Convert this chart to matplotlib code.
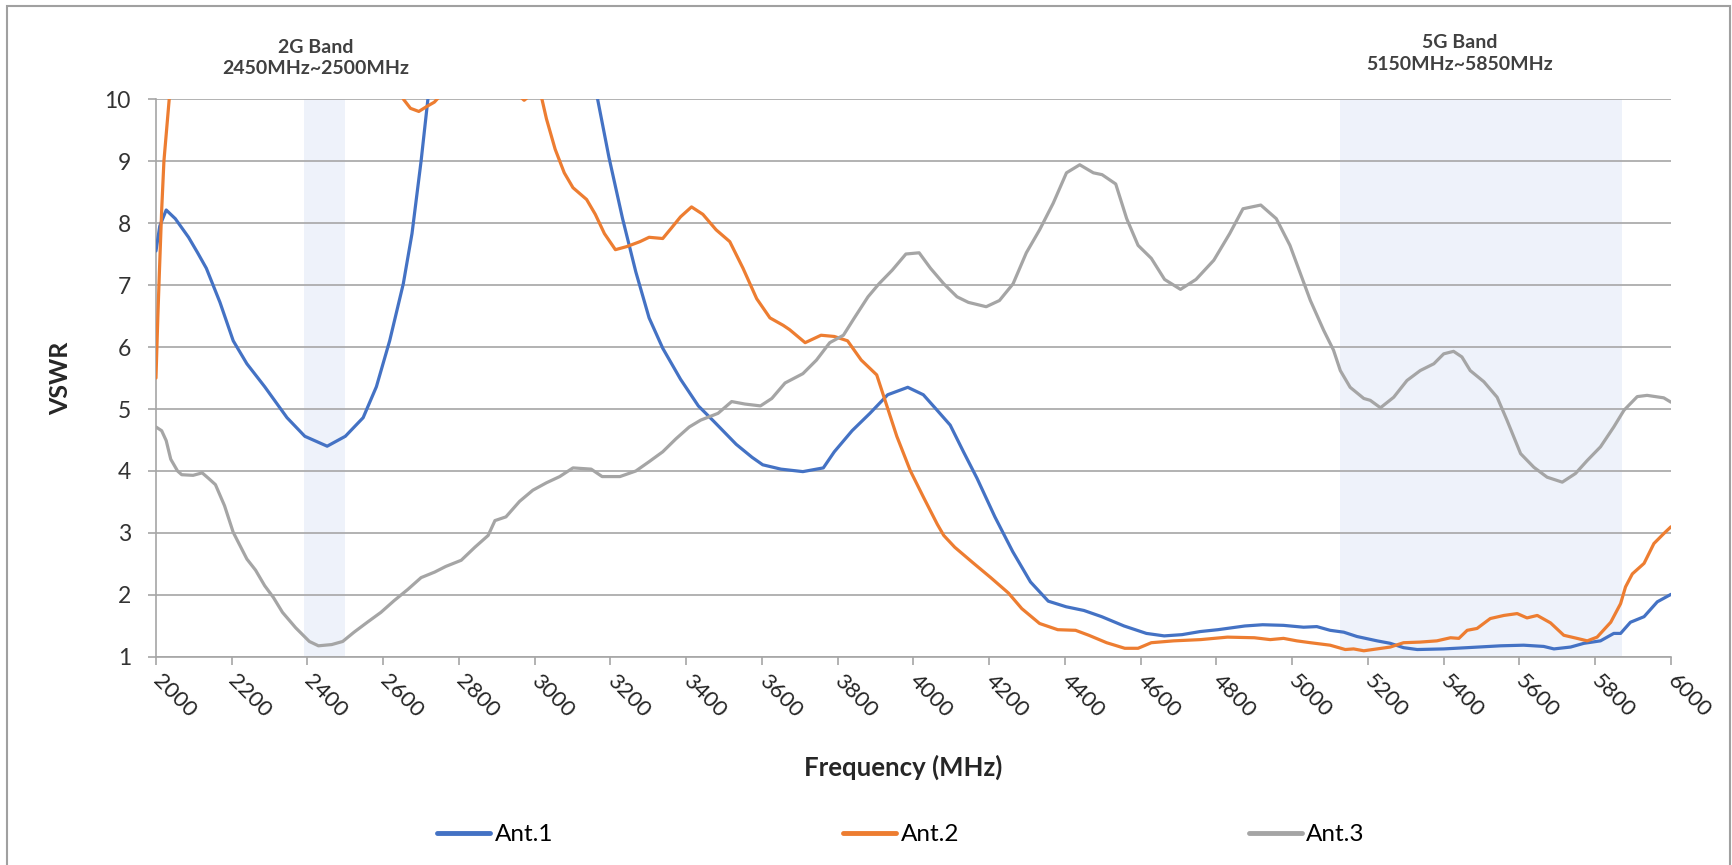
import matplotlib
matplotlib.use('Agg')
import matplotlib.pyplot as plt
from matplotlib.patches import Rectangle

# DATA

freq_ant1 = [2000, 2010, 2027, 2051, 2086, 2110, 2133, 2169, 2204, 2240, 2287,
             2346, 2393, 2452, 2500, 2547, 2582, 2617, 2653, 2676, 2700, 2718,
             2740, 2800, 2900, 3000, 3100, 3166, 3196, 3232, 3267, 3302, 3338,
             3385, 3432, 3473, 3532, 3574, 3602, 3650, 3708, 3762, 3791, 3838,
             3885, 3932, 3985, 4026, 4061, 4097, 4132, 4168, 4215, 4262, 4309,
             4356, 4403, 4450, 4497, 4556, 4615, 4662, 4709, 4757, 4804, 4875,
             4922, 4977, 5030, 5065, 5100, 5136, 5171, 5224, 5259, 5294, 5330,
             5400, 5462, 5550, 5611, 5664, 5691, 5735, 5770, 5814, 5849, 5867,
             5893, 5929, 5964, 6000]
vswr_ant1 = [7.55, 7.95, 8.21, 8.07, 7.77, 7.52, 7.27, 6.72, 6.10, 5.73, 5.36,
             4.86, 4.56, 4.40, 4.56, 4.86, 5.36, 6.10, 7.02, 7.83, 9.00, 10.0,
             11.5, 14.0, 16.0, 15.0, 12.5, 10.0, 9.06, 8.07, 7.21, 6.47, 5.98,
             5.48, 5.05, 4.80, 4.43, 4.22, 4.10, 4.03, 3.99, 4.05, 4.31, 4.65,
             4.93, 5.23, 5.35, 5.23, 4.99, 4.74, 4.31, 3.88, 3.26, 2.70, 2.21,
             1.90, 1.81, 1.75, 1.65, 1.50, 1.38, 1.34, 1.36, 1.41, 1.44, 1.50,
             1.52, 1.51, 1.48, 1.49, 1.43, 1.40, 1.33, 1.26, 1.22, 1.15, 1.12,
             1.13, 1.15, 1.18, 1.19, 1.17, 1.13, 1.16, 1.22, 1.26, 1.38, 1.38,
             1.56, 1.65, 1.89, 2.01]

freq_ant2 = [2000, 2005, 2009, 2015, 2021, 2035, 2060, 2200, 2400, 2550, 2630,
             2653, 2672, 2694, 2715, 2735, 2750, 2780, 2850, 2930, 2965, 2972,
             2980, 3000, 3019, 3031, 3054, 3078, 3101, 3137, 3160, 3184, 3213,
             3243, 3278, 3302, 3338, 3361, 3385, 3414, 3444, 3479, 3515, 3550,
             3586, 3621, 3656, 3673, 3714, 3756, 3791, 3826, 3862, 3903, 3933,
             3956, 3992, 4027, 4063, 4080, 4109, 4157, 4204, 4251, 4286, 4333,
             4381, 4428, 4463, 4510, 4558, 4593, 4628, 4687, 4758, 4829, 4900,
             4942, 4977, 5012, 5048, 5100, 5140, 5162, 5189, 5224, 5259, 5294,
             5338, 5382, 5418, 5440, 5462, 5488, 5523, 5559, 5594, 5620, 5647,
             5682, 5717, 5752, 5779, 5805, 5841, 5867, 5880, 5898, 5929, 5955,
             5981, 6000]
vswr_ant2 = [5.5, 6.5, 7.2, 8.2, 9.0, 10.0, 12.0, 16.0, 16.0, 13.0, 10.5,
             10.0, 9.85, 9.80, 9.88, 9.95, 10.05, 10.6, 11.0, 10.5, 10.02, 9.98,
             10.02, 10.3, 10.0, 9.68, 9.19, 8.81, 8.57, 8.38, 8.14, 7.83, 7.57,
             7.62, 7.70, 7.77, 7.75, 7.92, 8.10, 8.26, 8.14, 7.89, 7.70, 7.27,
             6.78, 6.47, 6.35, 6.28, 6.07, 6.19, 6.17, 6.10, 5.79, 5.55, 4.99,
             4.56, 4.00, 3.57, 3.14, 2.96, 2.77, 2.52, 2.28, 2.03, 1.78, 1.54,
             1.44, 1.43, 1.35, 1.23, 1.14, 1.14, 1.23, 1.26, 1.28, 1.32, 1.31,
             1.28, 1.30, 1.26, 1.23, 1.19, 1.12, 1.13, 1.10, 1.13, 1.16, 1.23,
             1.24, 1.26, 1.31, 1.30, 1.43, 1.46, 1.62, 1.67, 1.70, 1.63, 1.67,
             1.55, 1.35, 1.30, 1.26, 1.32, 1.56, 1.86, 2.13, 2.34, 2.51, 2.83,
             2.99, 3.10]

freq_ant3 = [2000, 2015, 2027, 2039, 2057, 2068, 2098, 2122, 2139, 2157, 2181,
             2204, 2240, 2263, 2287, 2310, 2334, 2369, 2405, 2429, 2464, 2493,
             2523, 2558, 2594, 2629, 2665, 2700, 2736, 2765, 2806, 2842, 2877,
             2895, 2924, 2960, 2995, 3031, 3066, 3101, 3149, 3178, 3225, 3267,
             3302, 3338, 3373, 3408, 3438, 3484, 3520, 3555, 3596, 3626, 3661,
             3708, 3744, 3779, 3815, 3844, 3880, 3909, 3944, 3980, 4015, 4045,
             4080, 4115, 4145, 4192, 4227, 4263, 4298, 4333, 4369, 4404, 4439,
             4475, 4498, 4534, 4563, 4593, 4628, 4663, 4705, 4746, 4793, 4835,
             4870, 4917, 4958, 4994, 5048, 5083, 5109, 5127, 5153, 5189, 5206,
             5233, 5268, 5303, 5338, 5374, 5400, 5426, 5448, 5470, 5506, 5541,
             5567, 5603, 5638, 5673, 5713, 5748, 5779, 5814, 5849, 5876, 5911,
             5937, 5981, 6000]
vswr_ant3 = [4.71, 4.65, 4.49, 4.19, 4.00, 3.94, 3.93, 3.97, 3.88, 3.78, 3.44,
             3.01, 2.58, 2.40, 2.15, 1.96, 1.72, 1.47, 1.25, 1.18, 1.20, 1.25,
             1.40, 1.56, 1.72, 1.91, 2.09, 2.28, 2.37, 2.46, 2.56, 2.77, 2.96,
             3.20, 3.26, 3.51, 3.69, 3.81, 3.91, 4.05, 4.03, 3.91, 3.91, 4.00,
             4.15, 4.31, 4.52, 4.71, 4.82, 4.93, 5.12, 5.08, 5.05, 5.17, 5.42,
             5.57, 5.79, 6.07, 6.19, 6.47, 6.81, 7.02, 7.24, 7.50, 7.52, 7.27,
             7.02, 6.81, 6.72, 6.65, 6.75, 7.02, 7.52, 7.89, 8.32, 8.81, 8.94,
             8.81, 8.78, 8.63, 8.07, 7.64, 7.43, 7.09, 6.93, 7.09, 7.40, 7.83,
             8.23, 8.29, 8.07, 7.64, 6.75, 6.27, 5.95, 5.62, 5.35, 5.17, 5.14,
             5.02, 5.19, 5.46, 5.62, 5.73, 5.89, 5.93, 5.84, 5.62, 5.44, 5.19,
             4.82, 4.28, 4.06, 3.90, 3.82, 3.96, 4.17, 4.39, 4.71, 4.98, 5.20,
             5.22, 5.18, 5.11]

series_names = ['Ant.1', 'Ant.2', 'Ant.3']
series_colors = ['#4472C4', '#ED7D31', '#A5A5A5']

band_2g = (2390, 2500)
band_5g = (5125, 5870)
band_2g_label = '2G Band\n2450MHz~2500MHz'
band_5g_label = '5G Band\n5150MHz~5850MHz'

x_ticks = list(range(2000, 6001, 200))
y_ticks = list(range(1, 11))

# PLOT

plt.rcParams['font.family'] = ['Lato', 'DejaVu Sans']

grid_color = '#A6A6A6'
text_color = '#404040'

fig = plt.figure(figsize=(17.33, 8.65), dpi=100)
ax = fig.add_axes([0.0900, 0.2405, 0.8742, 0.6450])

# shaded frequency bands
ax.axvspan(*band_2g, color='#EEF2FA', zorder=0.2, linewidth=0)
ax.axvspan(*band_5g, color='#EEF2FA', zorder=0.2, linewidth=0)

for fr, vs, name, col in zip([freq_ant1, freq_ant2, freq_ant3],
                             [vswr_ant1, vswr_ant2, vswr_ant3],
                             series_names, series_colors):
    ax.plot(fr, vs, color=col, linewidth=2.3, label=name,
            solid_joinstyle='round', solid_capstyle='round', zorder=3)

ax.set_xlim(2000, 6000)
ax.set_ylim(1, 10)
ax.set_xticks(x_ticks)
ax.set_yticks(y_ticks)

ax.set_axisbelow(True)
ax.yaxis.grid(True, color=grid_color, linewidth=1.2)
ax.xaxis.grid(False)

for side in ['top', 'right']:
    ax.spines[side].set_visible(False)
for side in ['left', 'bottom']:
    ax.spines[side].set_color(grid_color)
    ax.spines[side].set_linewidth(1.2)

ax.tick_params(axis='y', length=6, width=1.2, color=grid_color, pad=12,
               labelsize=16.5, labelcolor='#333333')
ax.tick_params(axis='x', length=6, width=1.2, color=grid_color, pad=9,
               labelsize=16, labelcolor='#222222')
plt.setp(ax.get_xticklabels(), rotation=-45, ha='left', va='center',
         rotation_mode='anchor')

# labels
fig.text(0.0352, 0.563, 'VSWR', rotation=90, ha='center', va='center',
         fontsize=18, fontweight='bold', color='#262626')
fig.text(0.521, 0.1133, 'Frequency (MHz)', ha='center', va='center',
         fontsize=18.5, fontweight='bold', color='#262626')

fig.text(0.1824, 0.933, band_2g_label, ha='center', va='center',
         fontsize=14, fontweight='bold', color=text_color, linespacing=1.35)
fig.text(0.8425, 0.938, band_5g_label, ha='center', va='center',
         fontsize=14, fontweight='bold', color=text_color, linespacing=1.35)

# legend below the plot
handles, labels = ax.get_legend_handles_labels()
lg = fig.legend(handles, labels, loc='center', ncol=3, frameon=False,
                bbox_to_anchor=(0.52, 0.0347), fontsize=17.5,
                handlelength=2.18, handletextpad=0.2, columnspacing=11.9)
for line in lg.get_lines():
    line.set_linewidth(3.5)

# chart area border
fig.patches.append(Rectangle((7 / 1733, -0.05), 1723 / 1733, 1.05 - 6 / 865,
                             transform=fig.transFigure, fill=False,
                             edgecolor='#A0A0A0', linewidth=1.5))

fig.savefig('out.png', dpi=100)
